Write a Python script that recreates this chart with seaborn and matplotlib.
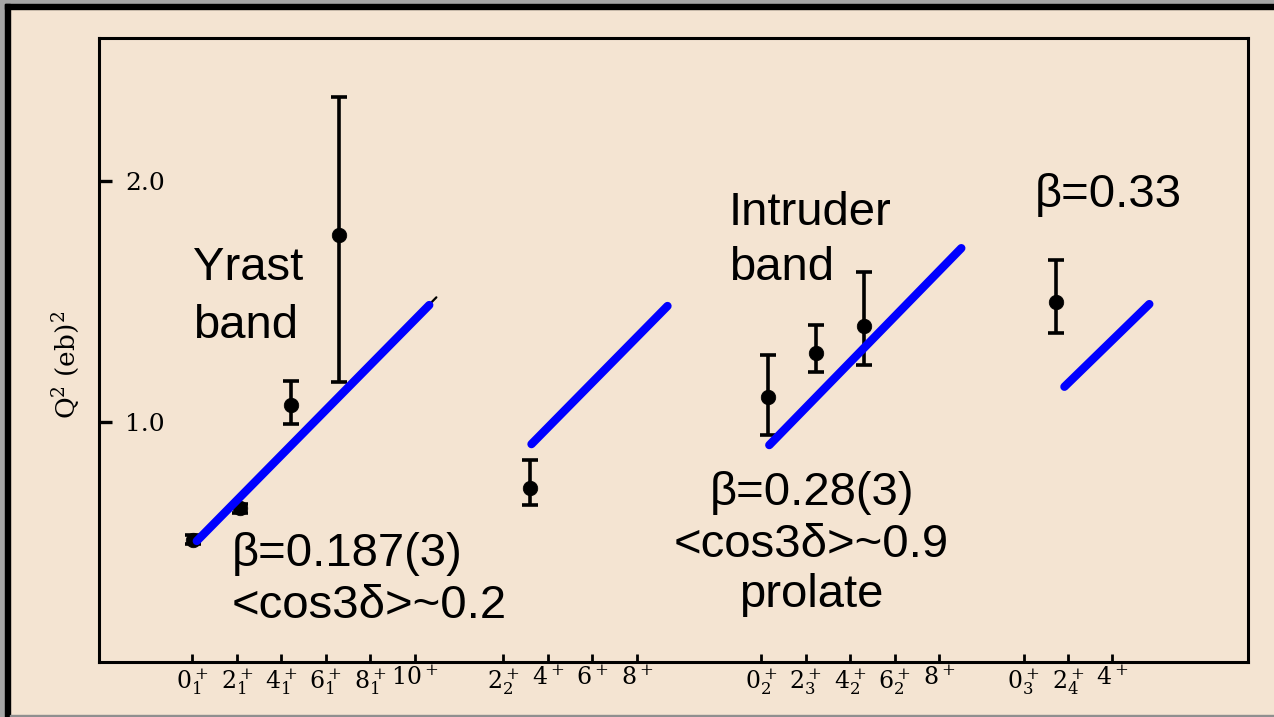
import matplotlib
matplotlib.use("Agg")
import matplotlib.pyplot as plt
from matplotlib.patches import Rectangle
import numpy as np
import pandas as pd
import seaborn as sns

# ---------------- data ----------------
tick_pos = [0, 1, 2, 3, 4, 5, 7, 8, 9, 10, 12.8, 13.8, 14.8, 15.8, 16.8, 18.7, 19.7, 20.7]
tick_labels = [r"$0_1^+$", r"$2_1^+$", r"$4_1^+$", r"$6_1^+$", r"$8_1^+$", r"$10^+$",
               r"$2_2^+$", r"$4^+$", r"$6^+$", r"$8^+$",
               r"$0_2^+$", r"$2_3^+$", r"$4_2^+$", r"$6_2^+$", r"$8^+$",
               r"$0_3^+$", r"$2_4^+$", r"$4^+$"]

point_x = [0.02, 1.08, 2.21, 3.31, 7.59, 12.94, 14.02, 15.12, 19.42]
point_q2 = [0.51, 0.64, 1.07, 1.774, 0.725, 1.102, 1.284, 1.397, 1.498]
err_low = [0.018, 0.018, 0.08, 0.608, 0.071, 0.157, 0.078, 0.162, 0.129]
err_high = [0.018, 0.018, 0.10, 0.575, 0.116, 0.175, 0.116, 0.224, 0.173]

# rigid-rotor lines (blue), start / end
fit_x0 = [0.10, 7.63, 12.98, 19.62]
fit_y0 = [0.505, 0.907, 0.903, 1.145]
fit_x1 = [5.33, 10.69, 17.30, 21.53]
fit_y1 = [1.484, 1.480, 1.720, 1.488]
# original black line tip peeking out beyond the first blue one
orig_x1 = [5.49]
orig_y1 = [1.516]

yticks = [1.0, 2.0]
ytick_labels = ["1.0", "2.0"]

# ---------------- style ----------------
BEIGE = "#F4E4D2"
sns.set_theme(style="ticks", rc={"axes.facecolor": BEIGE, "figure.facecolor": BEIGE})
plt.rcParams["font.family"] = ["Liberation Sans", "DejaVu Sans"]
plt.rcParams["mathtext.fontset"] = "dejavuserif"

W, H = 1274, 717
fig = plt.figure(figsize=(W / 100, H / 100), dpi=100)
fig.patch.set_facecolor(BEIGE)

# frame of the slide
fig.add_artist(Rectangle((0, 0), 5 / W, 1, transform=fig.transFigure, color="#a6a6a6", zorder=-5))
fig.add_artist(Rectangle((0, 1 - 4 / H), 1, 4 / H, transform=fig.transFigure, color="#a6a6a6", zorder=-5))
fig.add_artist(Rectangle((5 / W, 0), 5 / W, 1 - 4 / H, transform=fig.transFigure, color="black", zorder=-4))
fig.add_artist(Rectangle((5 / W, 1 - 9 / H), 1, 5 / H, transform=fig.transFigure, color="black", zorder=-4))
fig.add_artist(Rectangle((10 / W, 0), 1, 2.5 / H, transform=fig.transFigure, color="#8f8f8f", zorder=-4))

ax = fig.add_axes([99 / W, 1 - 662 / H, (1248 - 99) / W, (662 - 38) / H])
ax.set_facecolor(BEIGE)
ax.set_xlim(-2.1, 23.75)
ax.set_ylim(0.003, 2.592)

# black underlying line tip
for i in range(len(orig_x1)):
    ax.plot([fit_x0[i], orig_x1[i]], [fit_y0[i], orig_y1[i]], color="black", lw=1.6, zorder=3)

# error bars and points
ax.errorbar(point_x, point_q2, yerr=[err_low, err_high], fmt="none", ecolor="black",
            elinewidth=2.6, capsize=5.5, capthick=2.6, zorder=4)
sns.scatterplot(x=point_x, y=point_q2, color="black", s=110, edgecolor="black",
                linewidth=0.5, ax=ax, zorder=5, legend=False)

# blue lines
for i in range(len(fit_x0)):
    df = pd.DataFrame({"x": [fit_x0[i], fit_x1[i]], "y": [fit_y0[i], fit_y1[i]]})
    sns.lineplot(data=df, x="x", y="y", color="#0000FF", lw=6, ax=ax, zorder=6,
                 solid_capstyle="round", sort=False)

# axes style
for s in ax.spines.values():
    s.set_linewidth(2.2)
    s.set_color("black")

ax.set_xticks(tick_pos)
ax.set_xticklabels(tick_labels)
ax.tick_params(axis="x", direction="in", length=6, width=2.0, pad=3, colors="black", labelsize=17)

ax.set_yticks(yticks)
ax.set_yticklabels(ytick_labels)
ax.tick_params(axis="y", direction="in", length=9, width=2.4, pad=-19, colors="black", labelsize=18)
for lbl in ax.get_yticklabels():
    lbl.set_horizontalalignment("left")
    lbl.set_fontfamily("DejaVu Serif")
    lbl.set_fontsize(18)

ax.set_xlabel("")
ax.set_ylabel(r"Q$^2$ (eb)$^2$", fontsize=19, family="DejaVu Serif", color="black")
ax.yaxis.set_label_coords(-0.0148, 0.476)

# annotations
fs = 34
txt = dict(fontsize=fs, color="black", va="baseline", zorder=7)
ax.text(0.02, 1.588, "Yrast", ha="left", **txt)
ax.text(0.02, 1.347, "band", ha="left", **txt)
ax.text(0.89, 0.400, "β=0.187(3)", ha="left", **txt)
ax.text(0.89, 0.185, "<cos3δ>~0.2", ha="left", **txt)
ax.text(12.07, 1.816, "Intruder", ha="left", **txt)
ax.text(12.07, 1.588, "band", ha="left", **txt)
ax.text(13.93, 0.654, "β=0.28(3)", ha="center", **txt)
ax.text(13.93, 0.438, "<cos3δ>~0.9", ha="center", **txt)
ax.text(13.93, 0.231, "prolate", ha="center", **txt)
ax.text(18.95, 1.891, "β=0.33", ha="left", **txt)

fig.savefig("out.png", dpi=100, facecolor=BEIGE)
